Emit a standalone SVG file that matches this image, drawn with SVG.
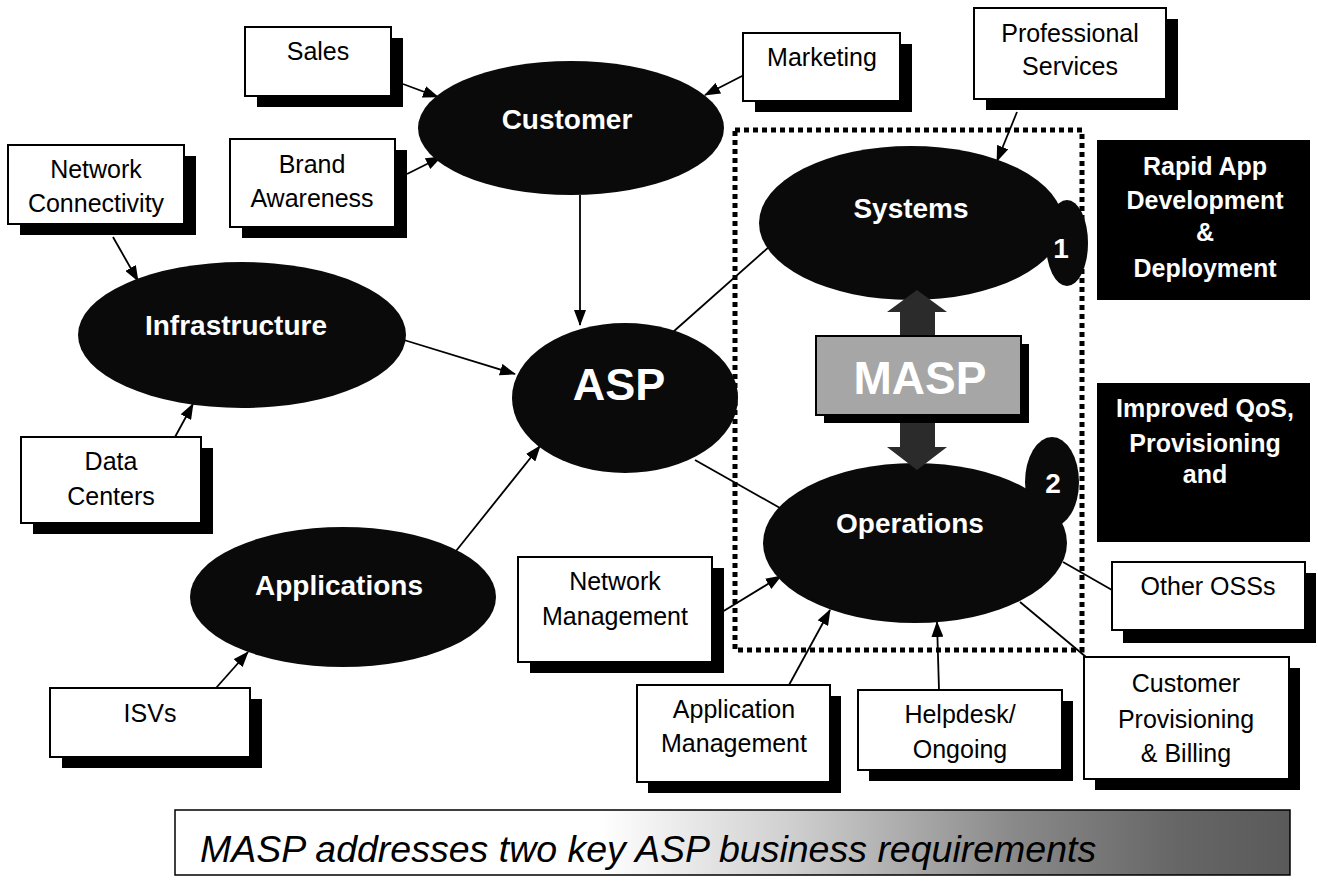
<svg xmlns="http://www.w3.org/2000/svg" width="1318" height="883" viewBox="0 0 1318 883">
  <defs>
    <style>
      .box { fill: #fff; stroke: #000; stroke-width: 2; }
      .shadow { fill: #000; }
      .oval { fill: #0a0a0a; }
      .lbl { font-family: "Liberation Sans", Arial, sans-serif; font-size: 25px; fill: #000; text-anchor: middle; }
      .olbl { font-family: "Liberation Sans", Arial, sans-serif; font-size: 28px; font-weight: bold; fill: #fff; text-anchor: middle; }
      .blbl { font-family: "Liberation Sans", Arial, sans-serif; font-size: 25px; font-weight: bold; fill: #fff; text-anchor: middle; }
      .wire { fill: none; stroke: #000; stroke-width: 1.8; }
      .arrow { marker-end: url(#head); }
    </style>
    <marker id="head" viewBox="0 0 16 12" refX="15" refY="6" markerWidth="16" markerHeight="12" markerUnits="userSpaceOnUse" orient="auto">
      <path d="M0,0 L16,6 L0,12 Z" fill="#000"/>
    </marker>
    <linearGradient id="bannerFill" x1="0" y1="0" x2="1" y2="0">
      <stop offset="0" stop-color="#fff"/>
      <stop offset="0.38" stop-color="#fff"/>
      <stop offset="0.55" stop-color="#d0d0d0"/>
      <stop offset="0.75" stop-color="#8a8a8a"/>
      <stop offset="0.9" stop-color="#666"/>
      <stop offset="1" stop-color="#5a5a5a"/>
    </linearGradient>
  </defs>

  <rect width="1318" height="883" fill="#fff"/>

  <!-- connectors -->
  <g id="connectors">
    <line class="wire arrow" x1="403" y1="84" x2="438" y2="97"/>
    <line class="wire arrow" x1="407" y1="174" x2="441" y2="157"/>
    <line class="wire arrow" x1="744" y1="75" x2="705" y2="95"/>
    <line class="wire arrow" x1="1017" y1="112" x2="997" y2="161"/>
    <line class="wire arrow" x1="580" y1="195" x2="580" y2="325"/>
    <line class="wire arrow" x1="113" y1="237" x2="138" y2="281"/>
    <line class="wire arrow" x1="404" y1="340" x2="515" y2="374"/>
    <line class="wire arrow" x1="175" y1="437" x2="193" y2="404"/>
    <line class="wire arrow" x1="456" y1="551" x2="540" y2="446"/>
    <line class="wire arrow" x1="216" y1="688" x2="248" y2="652"/>
    <line class="wire" x1="673" y1="332" x2="770" y2="246"/>
    <line class="wire" x1="695" y1="460" x2="780" y2="508"/>
    <line class="wire arrow" x1="722" y1="612" x2="781" y2="576"/>
    <line class="wire arrow" x1="789" y1="685" x2="830" y2="610"/>
    <line class="wire arrow" x1="939" y1="690" x2="937" y2="622"/>
    <line class="wire" x1="1020" y1="602" x2="1086" y2="657"/>
    <line class="wire" x1="1063" y1="562" x2="1112" y2="590"/>
  </g>

  <!-- dotted frame around Systems / Operations -->
  <rect id="masp-frame" x="735" y="130" width="347" height="520" fill="none" stroke="#000" stroke-width="5" stroke-dasharray="5 4"/>

  <!-- plain boxes -->
  <g id="sales">
    <rect class="shadow" x="257" y="38" width="146" height="69"/>
    <rect class="box" x="245" y="27" width="146" height="69"/>
    <text class="lbl" x="318" y="60">Sales</text>
  </g>
  <g id="brand-awareness">
    <rect class="shadow" x="242" y="150" width="165" height="88"/>
    <rect class="box" x="230" y="139" width="165" height="88"/>
    <text class="lbl" x="312" y="173">Brand</text>
    <text class="lbl" x="312" y="207">Awareness</text>
  </g>
  <g id="network-connectivity">
    <rect class="shadow" x="20" y="156" width="176" height="79"/>
    <rect class="box" x="8" y="145" width="176" height="79"/>
    <text class="lbl" x="96" y="178">Network</text>
    <text class="lbl" x="96" y="212">Connectivity</text>
  </g>
  <g id="marketing">
    <rect class="shadow" x="755" y="44" width="157" height="68"/>
    <rect class="box" x="743" y="33" width="157" height="68"/>
    <text class="lbl" x="822" y="66">Marketing</text>
  </g>
  <g id="professional-services">
    <rect class="shadow" x="986" y="19" width="192" height="91"/>
    <rect class="box" x="974" y="8" width="192" height="91"/>
    <text class="lbl" x="1070" y="42">Professional</text>
    <text class="lbl" x="1070" y="75">Services</text>
  </g>
  <g id="data-centers">
    <rect class="shadow" x="33" y="448" width="180" height="86"/>
    <rect class="box" x="21" y="437" width="180" height="86"/>
    <text class="lbl" x="111" y="470">Data</text>
    <text class="lbl" x="111" y="505">Centers</text>
  </g>
  <g id="isvs">
    <rect class="shadow" x="62" y="699" width="200" height="69"/>
    <rect class="box" x="50" y="688" width="200" height="69"/>
    <text class="lbl" x="150" y="722">ISVs</text>
  </g>
  <g id="network-management">
    <rect class="shadow" x="530" y="568" width="194" height="105"/>
    <rect class="box" x="518" y="557" width="194" height="105"/>
    <text class="lbl" x="615" y="590">Network</text>
    <text class="lbl" x="615" y="625">Management</text>
  </g>
  <g id="application-management">
    <rect class="shadow" x="648" y="696" width="193" height="97"/>
    <rect class="box" x="637" y="685" width="193" height="97"/>
    <text class="lbl" x="734" y="718">Application</text>
    <text class="lbl" x="734" y="752">Management</text>
  </g>
  <g id="helpdesk">
    <rect class="shadow" x="869" y="701" width="204" height="80"/>
    <rect class="box" x="858" y="690" width="204" height="80"/>
    <text class="lbl" x="960" y="723">Helpdesk/</text>
    <text class="lbl" x="960" y="758">Ongoing</text>
  </g>
  <g id="customer-provisioning">
    <rect class="shadow" x="1095" y="668" width="205" height="122"/>
    <rect class="box" x="1084" y="657" width="205" height="122"/>
    <text class="lbl" x="1186" y="692">Customer</text>
    <text class="lbl" x="1186" y="728">Provisioning</text>
    <text class="lbl" x="1186" y="762">&amp; Billing</text>
  </g>
  <g id="other-osss">
    <rect class="shadow" x="1123" y="573" width="193" height="70"/>
    <rect class="box" x="1112" y="562" width="193" height="68"/>
    <text class="lbl" x="1208" y="595">Other OSSs</text>
  </g>

  <!-- dark ovals -->
  <g id="customer">
    <ellipse class="oval" cx="571" cy="128" rx="153" ry="67"/>
    <text class="olbl" x="567" y="129">Customer</text>
  </g>
  <g id="infrastructure">
    <ellipse class="oval" cx="242" cy="335" rx="164" ry="73"/>
    <text class="olbl" x="236" y="335">Infrastructure</text>
  </g>
  <g id="applications">
    <ellipse class="oval" cx="343" cy="597" rx="153" ry="70"/>
    <text class="olbl" x="339" y="595">Applications</text>
  </g>
  <g id="asp">
    <ellipse class="oval" cx="625" cy="398" rx="113" ry="75"/>
    <text class="olbl" x="619" y="400" style="font-size:45px">ASP</text>
  </g>
  <g id="systems">
    <ellipse class="oval" cx="1067" cy="243" rx="21" ry="43"/>
    <ellipse class="oval" cx="911" cy="223" rx="152" ry="77"/>
    <text class="olbl" x="911" y="218">Systems</text>
    <text class="olbl" x="1061" y="258">1</text>
  </g>
  <g id="operations">
    <ellipse class="oval" cx="1052" cy="482" rx="27" ry="45"/>
    <ellipse class="oval" cx="915" cy="543" rx="152" ry="80"/>
    <text class="olbl" x="910" y="533">Operations</text>
    <text class="olbl" x="1053" y="493">2</text>
  </g>

  <!-- MASP link between Systems and Operations -->
  <g id="masp">
    <path d="M917,290 L947,312 L935,312 L935,447 L947,447 L917,470 L887,447 L900,447 L900,312 L887,312 Z" fill="#2b2b2b"/>
    <rect x="824" y="344" width="205" height="79" fill="#000"/>
    <rect x="816" y="336" width="205" height="79" fill="#a6a6a6" stroke="#000" stroke-width="2"/>
    <text x="920" y="394" style="font-family:'Liberation Sans',Arial,sans-serif;font-size:46px;font-weight:bold;fill:#fff;text-anchor:middle">MASP</text>
  </g>

  <!-- black requirement boxes -->
  <g id="rapid-app">
    <rect x="1097" y="140" width="213" height="160" fill="#000"/>
    <text class="blbl" x="1205" y="175">Rapid App</text>
    <text class="blbl" x="1205" y="209">Development</text>
    <text class="blbl" x="1205" y="241">&amp;</text>
    <text class="blbl" x="1205" y="277">Deployment</text>
  </g>
  <g id="improved-qos">
    <rect x="1097" y="383" width="213" height="159" fill="#000"/>
    <text class="blbl" x="1205" y="417">Improved QoS,</text>
    <text class="blbl" x="1205" y="452">Provisioning</text>
    <text class="blbl" x="1205" y="483">and</text>
  </g>

  <!-- caption banner -->
  <g id="caption">
    <rect x="175" y="810" width="1115" height="65" fill="url(#bannerFill)" stroke="#000" stroke-width="1.5"/>
    <text x="200" y="862" style="font-family:'Liberation Sans',Arial,sans-serif;font-size:37.5px;font-style:italic;fill:#000">MASP addresses two key ASP business requirements</text>
  </g>
</svg>
